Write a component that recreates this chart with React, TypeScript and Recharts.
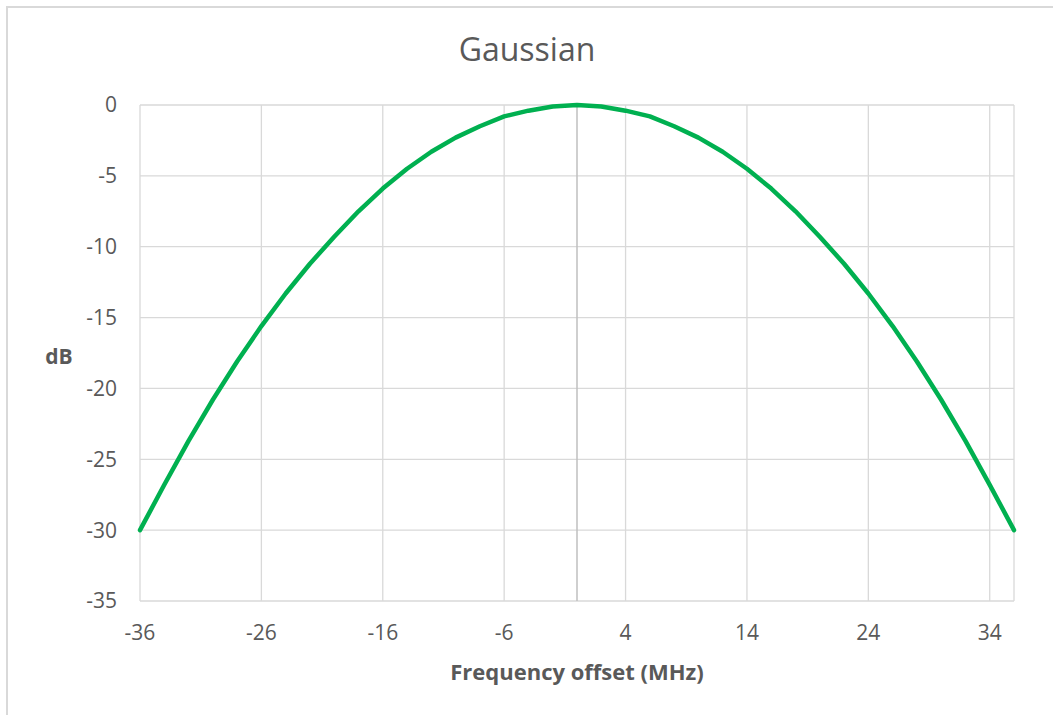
import { LineChart, Line, XAxis, YAxis, CartesianGrid, ReferenceLine } from "recharts";

// frequency offset (MHz), sampled every 2 MHz
const offsets = [
    -36, -34, -32, -30, -28, -26, -24, -22, -20, -18, -16, -14, -12, -10, -8, -6, -4, -2,
    0, 2, 4, 6, 8, 10, 12, 14, 16, 18, 20, 22, 24, 26, 28, 30, 32, 34, 36,
];
// attenuation in dB
const gains = [
    -30, -26.8, -23.7, -20.8, -18.1, -15.6, -13.3, -11.2, -9.3, -7.5, -5.9, -4.5, -3.3, -2.3, -1.5, -0.8, -0.4, -0.1,
    0, -0.1, -0.4, -0.8, -1.5, -2.3, -3.3, -4.5, -5.9, -7.5, -9.3, -11.2, -13.3, -15.6, -18.1, -20.8, -23.7, -26.8, -30,
];
const xTicks = [-36, -26, -16, -6, 4, 14, 24, 34];
const yTicks = [0, -5, -10, -15, -20, -25, -30, -35];

const data = offsets.map((x, i) => ({ x, y: gains[i] }));

const FONT = "'Open Sans', sans-serif";
const GREY = "#595959";

export default function App() {
    return (
        <div style={{ position: "fixed", left: 0, top: 0, width: 1053, height: 715, overflow: "hidden", background: "#fff" }}>
            {/* chart area frame, only its left and top edges fall inside the picture */}
            <div
                style={{
                    position: "absolute",
                    left: 6,
                    top: 6,
                    width: 1060,
                    height: 720,
                    borderLeft: "2px solid #d9d9d9",
                    borderTop: "2px solid #d9d9d9",
                }}
            />
            <div
                style={{
                    position: "absolute",
                    left: 8,
                    top: 8,
                    width: 1038,
                    height: 704,
                    fontFamily: FONT,
                }}
            >
                <div
                    style={{
                        position: "absolute",
                        left: 0,
                        top: 21,
                        width: 1038,
                        textAlign: "center",
                        fontSize: 32,
                        lineHeight: "40px",
                        color: GREY,
                    }}
                >
                    Gaussian
                </div>
                <div
                    style={{
                        position: "absolute",
                        left: 29,
                        top: 335,
                        width: 44,
                        textAlign: "center",
                        fontSize: 21,
                        fontWeight: 700,
                        lineHeight: "26px",
                        color: GREY,
                    }}
                >
                    dB
                </div>
                <div
                    style={{
                        position: "absolute",
                        left: 132,
                        top: 650,
                        width: 874,
                        textAlign: "center",
                        fontSize: 22,
                        fontWeight: 700,
                        lineHeight: "26px",
                        color: GREY,
                    }}
                >
                    Frequency offset (MHz)
                </div>
                <LineChart
                    width={1036}
                    height={702}
                    data={data}
                    margin={{ top: 97, right: 30, left: 52, bottom: 69 }}
                >
                    <CartesianGrid stroke="#d9d9d9" strokeWidth={1.3} />
                    <XAxis
                        dataKey="x"
                        type="number"
                        domain={[-36, 36]}
                        ticks={xTicks}
                        interval={0}
                        height={40}
                        axisLine={false}
                        tickLine={false}
                        tickSize={0}
                        tickMargin={24}
                        tick={{ fill: GREY, fontSize: 21, fontFamily: FONT }}
                    />
                    <YAxis
                        type="number"
                        domain={[-35, 0]}
                        ticks={yTicks}
                        interval={0}
                        width={80}
                        axisLine={false}
                        tickLine={false}
                        tickSize={0}
                        tickMargin={23}
                        tick={{ fill: GREY, fontSize: 21, fontFamily: FONT }}
                    />
                    <ReferenceLine x={0} stroke="#bfbfbf" strokeWidth={1.5} />
                    <Line
                        dataKey="y"
                        type="linear"
                        stroke="#00b050"
                        strokeWidth={4.5}
                        strokeLinecap="round"
                        strokeLinejoin="round"
                        dot={false}
                        activeDot={false}
                        isAnimationActive={false}
                    />
                </LineChart>
            </div>
        </div>
    );
}
